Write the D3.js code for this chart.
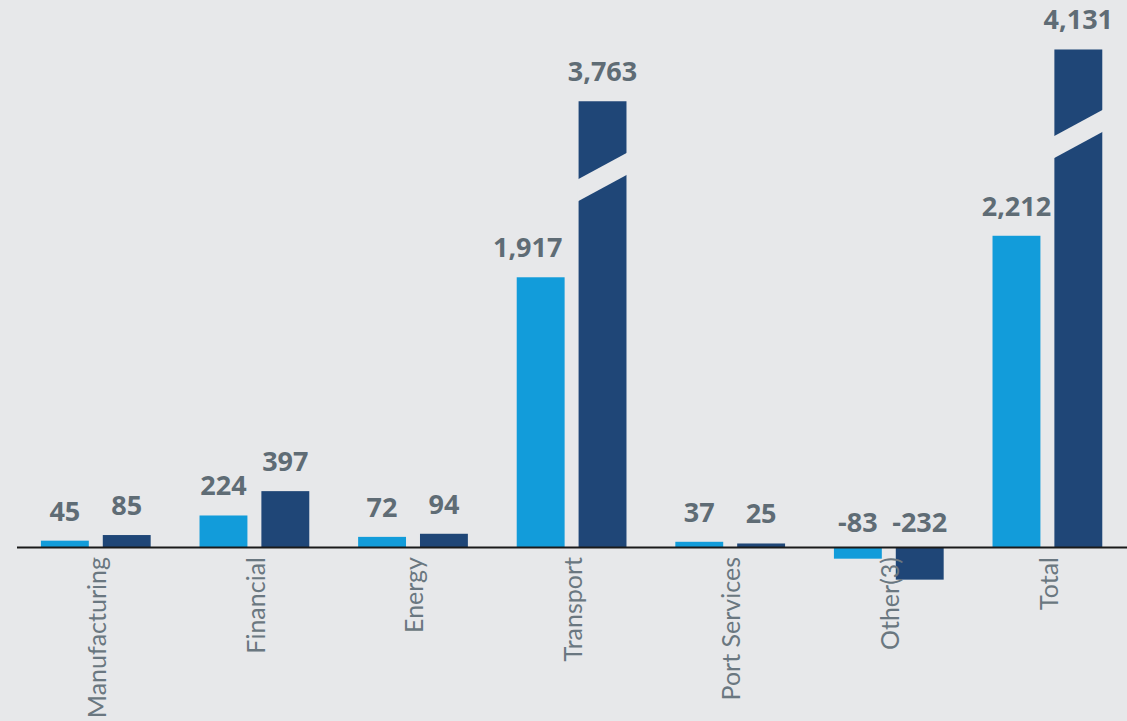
<!DOCTYPE html>
<html>
<head>
<meta charset="utf-8">
<script src="https://cdn.jsdelivr.net/npm/d3@7"></script>
<style>
  html, body { margin: 0; padding: 0; background: #E7E8EA; }
  svg { display: block; }
</style>
</head>
<body>
<svg id="chart" width="1127" height="721"></svg>
<script>
// ---- data ----
const categories = ["Manufacturing", "Financial", "Energy", "Transport", "Port Services", "Other(3)", "Total"];
const seriesNames = ["Period 1", "Period 2"];
const series1 = [45, 224, 72, 1917, 37, -83, 2212];
const series2 = [85, 397, 94, 3763, 25, -232, 4131];
// values above this are drawn with a broken bar
const breakThreshold = 3000;
const breakAmount = 595;

// ---- layout ----
const W = 1127, H = 721;
const zeroY = 547;
const colors = ["#129CDA", "#1F4677"];
const bg = "#E7E8EA";
// small manual label nudges (style only)
const labelNudge = { "Transport|Period 1": -13 };

const svg = d3.select("#chart");
svg.append("rect").attr("width", W).attr("height", H).attr("fill", bg);

const x0 = d3.scaleBand().domain(categories).range([16.5, 1126.7])
  .paddingInner(0.308).paddingOuter(0.154);
const x1 = d3.scaleBand().domain(seriesNames).range([0, x0.bandwidth()])
  .paddingInner(0.2258).paddingOuter(0);
const y = d3.scaleLinear().domain([0, 3000]).range([zeroY, zeroY - 0.1407 * 3000]);

const rows = [];
categories.forEach((c, i) => {
  [series1, series2].forEach((s, j) => {
    const v = s[i];
    const broken = v > breakThreshold;
    rows.push({ cat: c, ser: seriesNames[j], j, v, broken, dv: broken ? v - breakAmount : v });
  });
});

const g = svg.append("g");

// bars
g.selectAll("rect.bar").data(rows).join("rect")
  .attr("class", "bar")
  .attr("x", d => x0(d.cat) + x1(d.ser))
  .attr("width", x1.bandwidth())
  .attr("y", d => Math.min(y(d.dv), y(0)))
  .attr("height", d => Math.abs(y(d.dv) - y(0)))
  .attr("fill", d => colors[d.j]);

// break gaps
const bw = x1.bandwidth();
g.selectAll("polygon.gap").data(rows.filter(d => d.broken)).join("polygon")
  .attr("class", "gap")
  .attr("fill", bg)
  .attr("points", d => {
    const xl = x0(d.cat) + x1(d.ser) - 1;
    const xr = xl + bw + 2;
    const ym = y(0) - 0.83 * (y(0) - y(d.dv));
    const s = 13.5, t = 11;
    return [[xl, ym + s - t], [xr, ym - s - t], [xr, ym - s + t], [xl, ym + s + t]]
      .map(p => p.join(",")).join(" ");
  });

// value labels
const fmt = v => d3.format(",")(v).replace("\u2212", "-");
g.selectAll("text.val").data(rows).join("text")
  .attr("class", "val")
  .attr("x", d => x0(d.cat) + x1(d.ser) + bw / 2 + (labelNudge[d.cat + "|" + d.ser] || 0))
  .attr("y", d => d.v >= 0 ? y(d.dv) - 20 : y(0) - 15)
  .attr("text-anchor", "middle")
  .attr("font-family", "'Open Sans', sans-serif")
  .attr("font-weight", "bold")
  .attr("font-size", 27)
  .attr("fill", "#5F6C75")
  .text(d => fmt(d.v));

// axis
const axis = svg.append("g").attr("transform", `translate(0,${zeroY})`)
  .call(d3.axisBottom(x0).tickSize(0).tickSizeOuter(0));
axis.select(".domain").attr("stroke", "#1a1a1a").attr("stroke-width", 2);
axis.selectAll("text")
  .attr("transform", "rotate(-90)")
  .attr("x", -10).attr("y", 1.5).attr("dy", "0.35em")
  .attr("text-anchor", "end")
  .attr("font-family", "Lato, sans-serif")
  .attr("font-size", 25)
  .attr("fill", "#6A7780");
</script>
</body>
</html>
